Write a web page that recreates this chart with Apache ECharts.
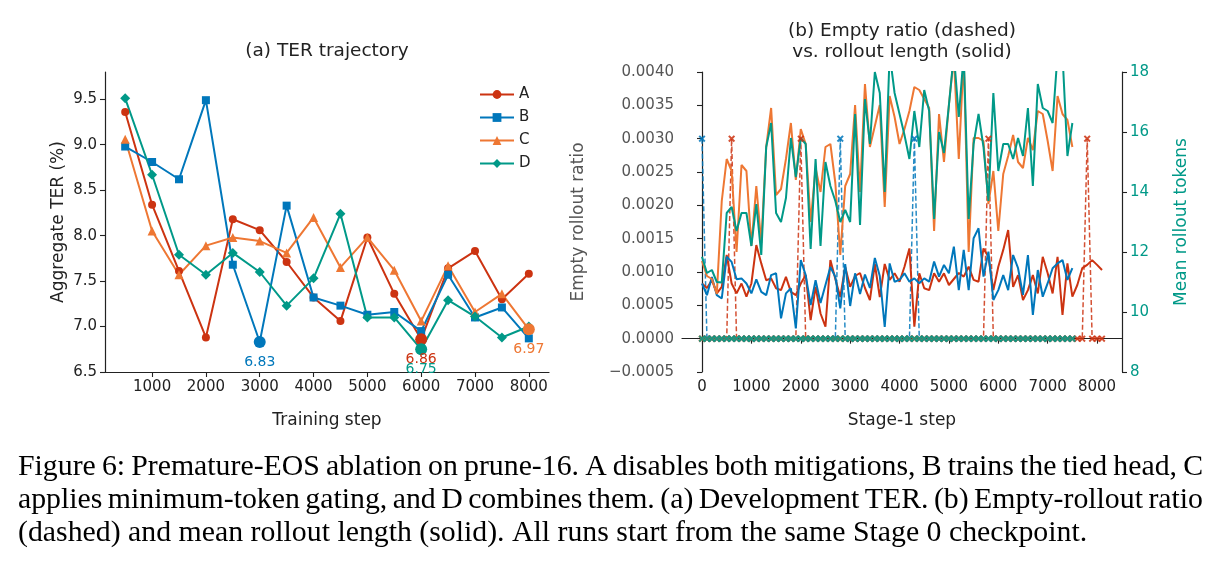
<!DOCTYPE html>
<html><head><meta charset="utf-8">
<script src="https://cdn.jsdelivr.net/npm/echarts@6.0.0/dist/echarts.min.js"></script>
<style>html,body{margin:0;padding:0;background:#fff}#c{width:1220px;height:576px}</style>
</head><body><div id="c"></div>
<script>
// ---------- data: panel (a) ----------
const terSteps = [500,1000,1500,2000,2500,3000,3500,4000,4500,5000,5500,6000,6500,7000,7500,8000];
const terA = [9.36,8.34,7.61,6.88,8.18,8.06,7.71,7.32,7.06,7.98,7.36,6.86,7.64,7.83,7.30,7.58];
const terB = [8.98,8.81,8.62,9.49,7.68,6.83,8.33,7.32,7.23,7.13,7.16,6.95,7.57,7.10,7.21,6.87];
const terC = [9.06,8.05,7.57,7.89,7.98,7.94,7.81,8.20,7.65,7.98,7.62,7.06,7.67,7.16,7.36,6.97];
const terD = [9.51,8.67,7.79,7.57,7.81,7.60,7.23,7.53,8.24,7.10,7.10,6.75,7.29,7.11,6.88,7.00];
const terXTicks = [1000,2000,3000,4000,5000,6000,7000,8000];
const terYTicks = [6.5,7.0,7.5,8.0,8.5,9.0,9.5];

// ---------- data: panel (b) ----------
const stepsA = [0,100,200,300,400,500,600,700,800,900,1000,1100,1200,1300,1400,1500,1600,1700,1800,1900,
  2000,2100,2200,2300,2400,2500,2600,2700,2800,2900,3000,3100,3200,3300,3400,3500,3600,3700,3800,3900,
  4000,4100,4200,4300,4400,4500,4600,4700,4800,4900,5000,5100,5200,5300,5400,5500,5600,5700,5800,5900,
  6000,6100,6200,6300,6400,6500,6600,6700,6800,6900,7000,7100,7200,7300,7400,7500,7600,7700,7800,7900,
  8000,8100];
const stepsBCD = [0,100,200,300,400,500,600,700,800,900,1000,1100,1200,1300,1400,1500,1600,1700,1800,1900,
  2000,2100,2200,2300,2400,2500,2600,2700,2800,2900,3000,3100,3200,3300,3400,3500,3600,3700,3800,3900,
  4000,4100,4200,4300,4400,4500,4600,4700,4800,4900,5000,5100,5200,5300,5400,5500,5600,5700,5800,5900,
  6000,6100,6200,6300,6400,6500,6600,6700,6800,6900,7000,7100,7200,7300,7400,7500];

const emptyA = [0,0,0,0,0,0,0.003,0,0,0, 0,0,0,0,0,0,0,0,0,0, 0.003,0,0,0,0,0,0,0,0,0, 0,0,0,0,0,0,0,0,0,0,
  0,0,0,0,0,0,0,0,0,0, 0,0,0,0,0,0,0,0,0.003,0, 0,0,0,0,0,0,0,0,0,0, 0,0,0,0,0,0,0,0,0.003,0, 0,0];
const emptyB = [0.003,0,0,0,0,0,0,0,0,0, 0,0,0,0,0,0,0,0,0,0, 0,0,0,0,0,0,0,0,0.003,0, 0,0,0,0,0,0,0,0,0,0,
  0,0,0,0.003,0,0,0,0,0,0, 0,0,0,0,0,0,0,0,0,0, 0,0,0,0,0,0,0,0,0,0, 0,0,0,0,0,0];
const emptyC = [0,0,0,0,0,0,0,0,0,0, 0,0,0,0,0,0,0,0,0,0, 0,0,0,0,0,0,0,0,0,0, 0,0,0,0,0,0,0,0,0,0,
  0,0,0,0,0,0,0,0,0,0, 0,0,0,0,0,0,0,0,0,0, 0,0,0,0,0,0,0,0,0,0, 0,0,0,0,0,0];
const emptyD = [0,0,0,0,0,0,0,0,0,0, 0,0,0,0,0,0,0,0,0,0, 0,0,0,0,0,0,0,0,0,0, 0,0,0,0,0,0,0,0,0,0,
  0,0,0,0,0,0,0,0,0,0, 0,0,0,0,0,0,0,0,0,0, 0,0,0,0,0,0,0,0,0,0, 0,0,0,0,0,0];

const tokA = [10.95,10.8,11.06,10.62,10.84,11.9,10.95,10.62,10.95,10.51,
  10.95,12.23,11.62,11.06,11.12,10.79,10.73,11.17,10.67,10.56,
  10.95,11.23,9.73,10.84,9.95,9.51,11.73,11.1,10.5,11.5,
  10.84,11.2,11.3,10.8,10.4,11.6,10.5,11.6,11.07,11.29,
  11.01,11.51,12.12,9.51,11.29,10.79,10.73,11.29,11.01,11.29,
  10.9,11.1,11.3,11.18,11.51,11.07,11.01,12.12,11.84,10.73,
  11.51,12.07,12.73,10.84,11.23,10.4,10.73,11.23,10.62,11.84,
  11.29,10.62,11.84,9.9,11.62,10.51,10.9,11.46,11.57,11.73,
  11.57,11.4];
const tokB = [10.95,10.56,11.17,10.56,10.45,11.84,11.67,11.09,11.12,10.95,
  10.62,11.09,10.67,10.56,11.23,11.29,9.79,10.62,10.79,9.45,
  11.73,11.23,10.23,11.06,10.3,10.9,11.5,11.17,10.12,11.6,
  10.2,11.29,10.6,11.25,10.8,11.8,11.2,9.5,11.62,11.01,
  11.07,11.29,11.01,11.12,10.96,11.12,11.01,11.68,11.18,11.57,
  11.29,12.18,10.73,12.07,10.73,12.46,12.79,11.18,12.01,10.4,
  10.73,11.23,10.73,11.9,11.46,10.57,11.9,9.9,11.4,10.51,
  10.96,11.46,11.62,11.73,11.07,11.46];
const tokC = [11.7,11.2,11.1,10.6,13.7,15.1,14.7,12.0,14.9,14.7,
  12.2,14.2,12.3,15.5,16.8,13.9,14.1,15.1,16.3,14.4,
  16.1,15.6,13.0,14.8,14.0,15.5,15.6,14.3,11.9,14.2,
  14.6,16.9,14.0,17.6,15.5,16.2,16.9,13.5,17.2,16.5,
  15.6,16.1,16.7,17.5,17.4,17.1,16.8,12.7,16.6,15.0,
  16.9,18.5,15.1,18.5,12.0,15.8,15.8,15.7,13.6,14.7,
  12.7,14.6,15.2,15.9,15.0,14.8,15.8,15.4,16.7,16.6,
  15.7,14.7,17.2,16.6,16.4,15.5];
const tokD = [11.84,11.3,11.4,11.0,10.98,13.3,13.5,12.7,13.3,13.3,
  12.2,13.6,11.9,15.5,16.3,13.3,13.0,13.8,15.8,14.5,
  15.8,15.6,12.1,15.1,12.2,15.0,14.2,13.7,13.0,13.4,
  13.0,16.6,12.9,17.1,15.6,18.0,17.3,14.0,18.6,17.3,
  16.6,15.9,15.1,16.7,15.5,17.4,16.7,13.1,16.0,15.3,
  16.9,18.6,16.5,18.6,13.1,15.6,16.6,15.5,13.7,17.3,
  14.7,15.6,15.6,15.1,15.8,15.2,16.8,14.2,17.6,16.8,
  16.7,16.3,18.6,18.6,15.2,16.3];
const stepTicks = [0,1000,2000,3000,4000,5000,6000,7000,8000];
const ratioTicks = [-0.0005,0,0.0005,0.001,0.0015,0.002,0.0025,0.003,0.0035,0.004];
const tokenTicks = [8,10,12,14,16,18];

const runNames = ['A','B','C','D'];
const captionLines = [
  'Figure 6: Premature-EOS ablation on prune-16. A disables both mitigations, B trains the tied head, C',
  'applies minimum-token gating, and D combines them. (a) Development TER. (b) Empty-rollout ratio',
  '(dashed) and mean rollout length (solid). All runs start from the same Stage 0 checkpoint.'
];

// ---------- styles ----------
const COL = {A:'#CC3311', B:'#0077BB', C:'#EE7733', D:'#009988'};
const SYM = {A:['circle',8], B:['rect',8], C:['triangle',9], D:['diamond',10]};
const FF = 'DejaVu Sans';
const XSYM = 'path://M2,0L5,3L8,0L10,2L7,5L10,8L8,10L5,7L2,10L0,8L3,5L0,2Z';

const zip = (xs, ys) => xs.map((x, i) => [x, ys[i]]);
const terSeriesData = {A: terA, B: terB, C: terC, D: terD};
const emptyData = {A: [stepsA, emptyA], B: [stepsBCD, emptyB], C: [stepsBCD, emptyC], D: [stepsBCD, emptyD]};
const tokData = {A: [stepsA, tokA], B: [stepsBCD, tokB], C: [stepsBCD, tokC], D: [stepsBCD, tokD]};

function axisCommon(ticks, fmt, labelColor) {
  return {
    axisLine: {show: true, lineStyle: {color: '#222', width: 1.2}},
    axisTick: {show: true, length: 5, customValues: ticks, lineStyle: {color: '#222', width: 1.1}},
    axisLabel: {show: true, customValues: ticks, formatter: fmt, fontSize: 15, color: labelColor || '#222', fontFamily: FF, margin: 8},
    splitLine: {show: false}
  };
}

const series = [];
runNames.forEach(n => {
  const vals = terSeriesData[n];
  let mi = 0; vals.forEach((v, i) => { if (v < vals[mi]) mi = i; });
  series.push({
    type: 'line', name: n, xAxisIndex: 0, yAxisIndex: 0,
    data: zip(terSteps, vals),
    symbol: SYM[n][0], symbolSize: SYM[n][1],
    lineStyle: {width: 2, color: COL[n]}, itemStyle: {color: COL[n]},
    markPoint: {
      symbol: 'circle', symbolSize: 12, itemStyle: {color: COL[n]}, animation: false,
      label: {show: true, position: 'inside', offset: [0, 20], formatter: '{b}', color: COL[n], fontSize: 14, fontFamily: FF},
      data: [{name: vals[mi].toFixed(2), coord: [terSteps[mi], vals[mi]]}]
    }
  });
});
runNames.forEach(n => {
  series.push({
    type: 'line', name: n + ' empty', xAxisIndex: 1, yAxisIndex: 1,
    data: zip(emptyData[n][0], emptyData[n][1]),
    symbol: XSYM, symbolSize: 7, showSymbol: true,
    lineStyle: {type: [5, 2.5], width: 1.5, color: COL[n], opacity: 0.85},
    itemStyle: {color: COL[n], opacity: 0.85}
  });
});
runNames.forEach(n => {
  series.push({
    type: 'line', name: n + ' tokens', xAxisIndex: 1, yAxisIndex: 2,
    data: zip(tokData[n][0], tokData[n][1]),
    symbol: 'none', showSymbol: false,
    lineStyle: {width: 2, color: COL[n]}, itemStyle: {color: COL[n]}
  });
});

// caption (justified lines; size chosen so that last line has its natural width)
const mctx = document.createElement('canvas').getContext('2d');
mctx.font = '25px "Liberation Serif"';
const lastW = mctx.measureText(captionLines[2]).width;
const capSize = Math.round(25 * 1070 / lastW * 10) / 10;
const capFont = capSize + 'px "Liberation Serif"';
mctx.font = capFont;
const capY = [467, 500, 533];
const graphics = [];
captionLines.forEach((line, li) => {
  const words = line.split(' ');
  const L = 18, R = 1203;
  const widths = words.map(w => mctx.measureText(w).width);
  const total = widths.reduce((a, b) => a + b, 0);
  const justify = li < captionLines.length - 1;
  const gap = justify ? (R - L - total) / (words.length - 1) : mctx.measureText(' ').width;
  let x = L;
  words.forEach((w, i) => {
    graphics.push({type: 'text', x: x, y: capY[li], silent: true,
      style: {text: w, font: capFont, fill: '#000', align: 'left', verticalAlign: 'middle', textAlign: 'left', textVerticalAlign: 'middle'}});
    x += widths[i] + gap;
  });
});
const titleFont = '18.5px "DejaVu Sans"';
graphics.push({type: 'text', x: 327, y: 51, silent: true, style: {text: '(a) TER trajectory', font: titleFont, fill: '#222', align: 'center', verticalAlign: 'middle', textAlign: 'center', textVerticalAlign: 'middle'}});
graphics.push({type: 'text', x: 902, y: 31, silent: true, style: {text: '(b) Empty ratio (dashed)', font: titleFont, fill: '#222', align: 'center', verticalAlign: 'middle', textAlign: 'center', textVerticalAlign: 'middle'}});
graphics.push({type: 'text', x: 902, y: 52, silent: true, style: {text: 'vs. rollout length (solid)', font: titleFont, fill: '#222', align: 'center', verticalAlign: 'middle', textAlign: 'center', textVerticalAlign: 'middle'}});

const option = {
  animation: false,
  textStyle: {fontFamily: FF},
  grid: [
    {left: 105, top: 72, width: 444, height: 300},
    {left: 682, top: 72, width: 440, height: 300}
  ],
  legend: {
    data: runNames, orient: 'vertical', left: 474, top: 82,
    itemWidth: 34, itemHeight: 11, itemGap: 8,
    textStyle: {fontSize: 15, color: '#222', fontFamily: FF}
  },
  xAxis: [
    Object.assign({gridIndex: 0, type: 'value', min: 125, max: 8375,
      name: 'Training step', nameLocation: 'middle', nameGap: 40,
      nameTextStyle: {fontSize: 17, color: '#222', fontFamily: FF}}, axisCommon(terXTicks, v => String(v))),
    Object.assign({gridIndex: 1, type: 'value', min: -405, max: 8505,
      name: 'Stage-1 step', nameLocation: 'middle', nameGap: 40,
      nameTextStyle: {fontSize: 17, color: '#222', fontFamily: FF}}, axisCommon(stepTicks, v => String(v)))
  ],
  yAxis: [
    Object.assign({gridIndex: 0, type: 'value', min: 6.5, max: 9.8,
      name: 'Aggregate TER (%)', nameLocation: 'middle', nameGap: 38,
      nameTextStyle: {fontSize: 17, color: '#222', fontFamily: FF}}, axisCommon(terYTicks, v => v.toFixed(1))),
    Object.assign({gridIndex: 1, type: 'value', min: -0.0005, max: 0.004, position: 'left',
      name: 'Empty rollout ratio', nameLocation: 'middle', nameGap: 95,
      nameTextStyle: {fontSize: 17, color: '#555', fontFamily: FF}}, axisCommon(ratioTicks, v => v.toFixed(4).replace('-', '\u2212'), '#555')),
    Object.assign({gridIndex: 1, type: 'value', min: 8, max: 18, position: 'right',
      name: 'Mean rollout tokens', nameLocation: 'middle', nameGap: 51,
      nameTextStyle: {fontSize: 17, color: '#009988', fontFamily: FF}}, axisCommon(tokenTicks, v => String(v), '#009988'))
  ],
  series: series,
  graphic: graphics
};
const chart = echarts.init(document.getElementById('c'), null, {renderer: 'canvas'});
chart.setOption(option);
</script></body></html>
